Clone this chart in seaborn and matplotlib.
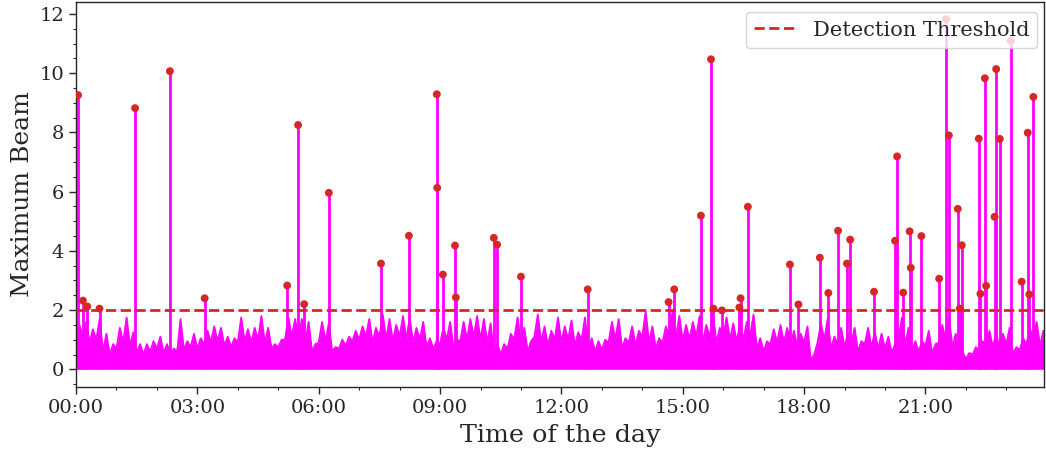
import numpy as np
import pandas as pd
import matplotlib
matplotlib.use("Agg")
import matplotlib.pyplot as plt
import seaborn as sns
from matplotlib.ticker import MultipleLocator, FixedLocator

# ---------------- data ----------------
# background noise, read every 10 minutes from 00:00:
# noise_low  = the solid level of the band, noise_high = the tallest noise spike
noise_high = [
    1.5, 1.6, 1.35, 1.7, 1.2, 0.85, 1.4, 1.75, 1.25, 0.85,
    0.85, 0.95, 1.1, 0.85, 0.7, 1.7, 0.95, 1.2, 1.05, 1.3,
    1.45, 1.4, 1.1, 1.05, 1.75, 1.35, 1.4, 1.8, 1.4, 0.85,
    1.0, 1.75, 1.7, 1.7, 1.6, 0.85, 1.6, 1.55, 0.75, 1.0,
    1.1, 1.3, 1.45, 1.7, 1.4, 1.85, 1.7, 1.5, 1.8, 1.75,
    1.4, 1.6, 1.05, 0.95, 1.4, 1.6, 1.0, 1.6, 1.7, 1.8,
    1.7, 1.55, 0.85, 0.85, 1.2, 1.75, 1.4, 0.95, 1.85, 1.45,
    1.3, 1.75, 1.45, 1.65, 1.25, 1.75, 1.05, 0.95, 1.0, 1.6,
    1.7, 1.05, 1.45, 1.3, 1.95, 1.45, 1.05, 1.45, 1.95, 1.8,
    1.5, 1.6, 1.8, 1.5, 1.85, 1.4, 1.75, 1.55, 1.5, 1.6,
    1.85, 1.05, 0.95, 1.35, 1.5, 1.4, 1.3, 1.2, 1.45, 0.5,
    1.55, 1.7, 1.1, 1.4, 1.2, 1.4, 0.95, 1.4, 1.25, 1.2,
    1.1, 0.85, 1.75, 1.4, 0.95, 0.95, 1.3, 0.85, 1.5, 1.75,
    1.2, 0.6, 0.55, 0.75, 0.95, 1.3, 1.2, 1.2, 1.4, 0.75,
    1.05, 1.4, 1.6, 1.3, 1.2,
]
noise_low = [
    1.0, 1.1, 0.9, 1.0, 0.6, 0.5, 0.7, 0.9, 0.8, 0.55,
    0.5, 0.6, 0.7, 0.55, 0.5, 0.6, 0.65, 0.75, 0.7, 0.85,
    0.9, 0.95, 0.8, 0.75, 0.9, 0.95, 0.9, 1.0, 0.9, 0.7,
    0.75, 1.0, 1.1, 1.0, 0.9, 0.6, 0.9, 0.95, 0.6, 0.7,
    0.8, 0.95, 1.0, 1.1, 0.9, 1.1, 1.0, 0.95, 1.1, 1.0,
    0.9, 1.0, 0.75, 0.7, 0.85, 1.0, 0.7, 0.95, 1.0, 1.1,
    1.0, 0.9, 0.5, 0.5, 0.7, 1.0, 0.85, 0.6, 1.1, 0.9,
    0.8, 1.0, 0.9, 1.0, 0.8, 1.0, 0.65, 0.6, 0.65, 0.9,
    1.0, 0.7, 0.9, 0.8, 1.1, 0.9, 0.7, 0.9, 1.15, 1.1,
    0.95, 1.0, 1.1, 0.95, 1.1, 0.9, 1.05, 1.0, 0.95, 1.0,
    1.1, 0.7, 0.6, 0.85, 0.9, 0.9, 0.8, 0.75, 0.9, 0.3,
    0.9, 1.0, 0.7, 0.85, 0.75, 0.85, 0.6, 0.85, 0.75, 0.7,
    0.7, 0.55, 1.0, 0.85, 0.6, 0.6, 0.8, 0.55, 0.9, 1.0,
    0.75, 0.4, 0.35, 0.5, 0.6, 0.8, 0.75, 0.75, 0.85, 0.5,
    0.65, 0.85, 1.0, 0.8, 0.75,
]
noise_step_minutes = 10

# detections (hour of day, maximum beam)
peak_hours = [
    0.05, 0.17, 0.28, 0.58, 1.46, 2.32, 3.18, 5.22, 5.49, 5.64,
    6.25, 7.54, 8.23, 8.92, 8.93, 9.07, 9.37, 9.39, 10.33, 10.41,
    11.00, 12.65, 14.65, 14.79, 15.45, 15.70, 15.76, 15.97, 16.40, 16.43,
    16.61, 17.65, 17.86, 18.39, 18.60, 18.84, 19.06, 19.14, 19.73, 20.25,
    20.30, 20.45, 20.61, 20.64, 20.90, 21.34, 21.51, 21.58, 21.80, 21.85,
    21.90, 22.32, 22.36, 22.47, 22.50, 22.71, 22.75, 22.84, 23.11, 23.38,
    23.53, 23.57, 23.67,
]
peak_values = [
    9.26, 2.32, 2.12, 2.05, 8.82, 10.07, 2.40, 2.83, 8.25, 2.20,
    5.96, 3.57, 4.51, 9.29, 6.13, 3.20, 4.18, 2.43, 4.44, 4.21,
    3.13, 2.70, 2.27, 2.70, 5.19, 10.47, 2.05, 1.99, 2.09, 2.40,
    5.49, 3.54, 2.19, 3.77, 2.58, 4.68, 3.57, 4.38, 2.62, 4.34,
    7.19, 2.59, 4.66, 3.43, 4.50, 3.06, 11.82, 7.90, 5.42, 2.05,
    4.19, 7.79, 2.55, 9.83, 2.82, 5.15, 10.14, 7.78, 11.09, 2.96,
    7.99, 2.53, 9.20,
]
threshold = 2.0
x_tick_hours = [0, 3, 6, 9, 12, 15, 18, 21]
x_tick_labels = ["00:00", "03:00", "06:00", "09:00", "12:00", "15:00", "18:00", "21:00"]
x_end_hour = 23.93

# ---------------- plot ----------------
sns.set_style("ticks")
plt.rcParams["font.family"] = ["DejaVu Serif"]
plt.rcParams["axes.linewidth"] = 1.0

MAGENTA = "#ff00ff"
RED = "#d62728"

fig, ax = plt.subplots(figsize=(10.46, 4.54), dpi=100)

step_h = noise_step_minutes / 60.0
base_h = np.arange(len(noise_low)) * step_h
noise_df = pd.DataFrame({
    "hour": np.concatenate([base_h, base_h + step_h / 2]),
    "beam": np.concatenate([noise_low, noise_high]),
}).sort_values("hour").reset_index(drop=True)
peaks_df = pd.DataFrame({"hour": peak_hours, "beam": peak_values})

sns.lineplot(data=noise_df, x="hour", y="beam", color=MAGENTA, lw=1.3,
             ax=ax, zorder=2)
ax.fill_between(noise_df["hour"], 0, noise_df["beam"],
                color=MAGENTA, lw=0, zorder=2)
ax.vlines(peaks_df["hour"], 0, peaks_df["beam"], color=MAGENTA, lw=2, zorder=2)
ax.axhline(threshold, color=RED, ls="--", lw=2, label="Detection Threshold", zorder=3)
sns.scatterplot(data=peaks_df, x="hour", y="beam", color=RED, s=32,
                edgecolor="none", ax=ax, zorder=4)

ax.set_xlim(0, x_end_hour)
ax.xaxis.set_major_locator(FixedLocator(x_tick_hours))
ax.set_xticklabels(x_tick_labels)
ax.xaxis.set_minor_locator(MultipleLocator(1))
ax.yaxis.set_major_locator(MultipleLocator(2))
ax.yaxis.set_minor_locator(MultipleLocator(0.5))
ax.tick_params(axis="both", which="major", labelsize=14, length=5, width=1)
ax.tick_params(axis="both", which="minor", length=2.5, width=0.8)

ax.set_xlabel("Time of the day", fontsize=18.3, labelpad=5)
ax.set_ylabel("Maximum Beam", fontsize=18)
ax.legend(loc="upper right", fontsize=15, bbox_to_anchor=(1.004, 1.0))

fig.subplots_adjust(left=0.0727, right=0.998, top=0.996, bottom=0.148)
fig.savefig("out.png", dpi=100)
